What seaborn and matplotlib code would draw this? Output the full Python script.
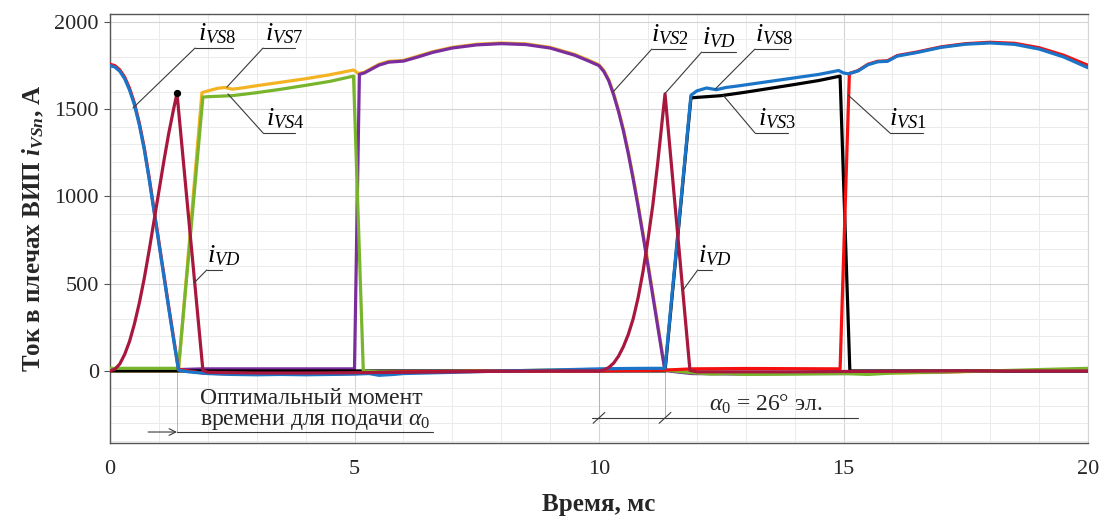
import matplotlib

matplotlib.use("Agg")
import matplotlib.pyplot as plt  # noqa: E402
import pandas as pd  # noqa: E402
import seaborn as sns  # noqa: E402
from matplotlib.ticker import MultipleLocator  # noqa: E402

# --- data (time in ms, current in A) ---
T_VS8 = [0, 0.1, 0.2, 0.3, 0.4, 0.5, 0.6, 0.7, 0.8, 0.9, 1.0, 1.1, 1.2, 1.3, 1.4, 1.6, 2.0, 2.5, 3.0,
         3.5, 4.0, 4.5, 5.0, 5.3, 5.5, 5.8, 6.0, 7.0, 8.0, 9.0, 10.0, 10.5, 11.0, 11.35, 11.88, 12.0,
         12.2, 12.4, 12.6, 12.8, 13.0, 13.5, 14.0, 14.5, 14.9, 15.0, 15.1, 15.3, 15.5, 15.7, 15.9, 16.1,
         16.5, 17.0, 17.5, 18.0, 18.5, 19.0, 19.5, 20.0]
I_VS8 = [1750, 1742, 1718, 1675, 1610, 1525, 1410, 1270, 1100, 915, 730, 545, 360, 180, 5, -5, -15,
         -20, -22, -20, -22, -20, -18, -15, -25, -20, -15, -8, 0, 5, 12, 14, 15, 15, 1580, 1605,
         1622, 1612, 1625, 1632, 1640, 1660, 1680, 1700, 1722, 1708, 1703, 1720, 1755, 1772, 1775, 1805,
         1825, 1855, 1873, 1880, 1872, 1845, 1800, 1738]

T_VS1 = [0, 0.1, 0.2, 0.3, 0.4, 0.5, 0.6, 0.7, 0.8, 0.9, 1.0, 1.1, 1.2, 1.3, 1.4, 1.6, 1.9, 2.5, 3.0,
         3.5, 4.0, 4.5, 5.0, 5.5, 6.0, 7.0, 8.0, 10.0, 11.0, 11.35, 11.9, 13.0, 14.0, 14.93, 15.12,
         15.3, 15.5, 15.7, 15.9, 16.1, 16.5, 17.0, 17.5, 18.0, 18.5, 19.0, 19.5, 20.0]
I_VS1 = [1758, 1750, 1726, 1684, 1620, 1535, 1420, 1280, 1110, 925, 740, 555, 370, 190, 10, 0, -12,
         -18, -20, -18, -20, -18, -15, -10, -5, -3, 0, 0, 3, 5, 12, 14, 13, 12, 1705,
         1722, 1758, 1775, 1778, 1808, 1828, 1858, 1876, 1884, 1878, 1853, 1810, 1752]

T_VS3 = [0, 11.35, 11.88, 12.0, 12.5, 13.0, 13.5, 14.0, 14.5, 14.93, 15.13, 20.0]
I_VS3 = [0, 0, 1565, 1568, 1578, 1598, 1620, 1642, 1665, 1690, 0, 0]

T_VD = [0, 0.1, 0.2, 0.3, 0.4, 0.5, 0.6, 0.7, 0.8, 0.9, 1.0, 1.1, 1.2, 1.3, 1.37, 1.9, 2.0, 3.0,
        4.0, 5.0, 6.0, 7.0, 8.0, 9.0, 10.0, 10.1, 10.2, 10.3, 10.4, 10.5, 10.6, 10.7, 10.8, 10.9,
        11.0, 11.1, 11.2, 11.35, 11.86, 12.0, 13.0, 14.0, 15.0, 16.0, 17.0, 20.0]
I_VD = [0, 10, 40, 95, 170, 270, 390, 530, 690, 860, 1030, 1200, 1360, 1500, 1592, 3, -8, -12,
        -12, -10, -8, -5, -2, 0, 0, 5, 20, 45, 85, 140, 210, 300, 420, 570,
        750, 950, 1190, 1588, 3, -5, -5, -5, -3, -2, 0, 0]

T_VS4 = [0, 1.4, 1.9, 2.0, 2.5, 3.0, 3.5, 4.0, 4.5, 4.98, 5.18, 5.5, 6.0, 7.0, 8.0, 9.0, 10.0, 11.0,
         11.35, 11.9, 12.3, 12.6, 13.0, 14.0, 15.0, 15.5, 16.0, 17.0, 18.0, 19.0, 20.0]
I_VS4 = [15, 15, 1570, 1572, 1578, 1595, 1615, 1637, 1660, 1690, 0, -5, -5, -3, 0, 5, 8, 10,
         5, -10, -18, -15, -20, -18, -15, -20, -12, -5, 0, 8, 15]

T_VS7 = [0, 1.4, 1.88, 2.0, 2.2, 2.35, 2.5, 2.7, 3.0, 3.5, 4.0, 4.5, 4.98, 5.08, 5.2, 5.5, 5.7, 6.0,
         6.3, 6.6, 7.0, 7.5, 8.0, 8.5, 9.0, 9.5, 9.8, 10.0, 10.1, 10.2, 10.3, 10.4, 10.5, 10.6, 10.7,
         10.8, 10.9, 11.0, 11.1, 11.2, 11.3, 11.35, 11.9, 13.0, 15.0, 16.0, 17.0, 18.0, 20.0]
I_VS7 = [0, 0, 1595, 1605, 1620, 1625, 1615, 1622, 1635, 1655, 1675, 1698, 1725, 1705, 1712, 1758, 1775,
         1780, 1805, 1830, 1855, 1873, 1880, 1875, 1855, 1815, 1780, 1755, 1722, 1670, 1590, 1495,
         1385, 1255, 1110, 955, 790, 620, 445, 270, 95, 5, -5, -10, -10, -12, -8, 0, 5]

T_VS2 = [0, 1.4, 1.9, 3.0, 4.0, 5.0, 5.1, 5.2, 5.5, 5.7, 6.0, 6.3, 6.6, 7.0, 7.5, 8.0, 8.5, 9.0, 9.5,
         9.8, 10.0, 10.1, 10.2, 10.3, 10.4, 10.5, 10.6, 10.7, 10.8, 10.9, 11.0, 11.1, 11.2, 11.3, 11.35,
         11.9, 13.0, 14.0, 15.0, 16.0, 17.0, 18.0, 20.0]
I_VS2 = [8, 8, 12, 12, 12, 12, 1700, 1708, 1753, 1770, 1776, 1800, 1826, 1851, 1869, 1876, 1871, 1851,
         1810, 1775, 1750, 1716, 1663, 1582, 1486, 1375, 1244, 1098, 942, 776, 606, 431, 256, 82, 2,
         -15, -18, -15, -15, -8, -5, 0, 0]

BLUE = "#1A75C9"
RED = "#F50F0F"
BLACK = "#000000"
CRIMSON = "#A8183E"
GREEN = "#78B52C"
ORANGE = "#F3B322"
PURPLE = "#7A2D9C"
INK = "#3A3A3A"

# draw order: bottom -> top
SERIES = [
    ("VS7", T_VS7, I_VS7, ORANGE),
    ("VS2", T_VS2, I_VS2, PURPLE),
    ("VS3", T_VS3, I_VS3, BLACK),
    ("VS4", T_VS4, I_VS4, GREEN),
    ("VS1", T_VS1, I_VS1, RED),
    ("VS8", T_VS8, I_VS8, BLUE),
    ("VD", T_VD, I_VD, CRIMSON),
]

# curve labels: text, text anchor, underline (x0, x1, y), point on curve
LABELS = [
    (r"$\mathit{i}_{\mathit{VS8}}$", (1.80, 1860), (1.74, 2.52, 1851), (0.47, 1507)),
    (r"$\mathit{i}_{\mathit{VS7}}$", (3.17, 1860), (3.13, 3.78, 1851), (2.39, 1627)),
    (r"$\mathit{i}_{\mathit{VS4}}$", (3.19, 1373), (3.13, 3.78, 1364), (2.41, 1588)),
    (r"$\mathit{i}_{\mathit{VD}}$", (1.98, 588), (1.98, 2.29, 579), (1.72, 505)),
    (r"$\mathit{i}_{\mathit{VS2}}$", (11.06, 1854), (11.08, 11.76, 1845), (10.29, 1600)),
    (r"$\mathit{i}_{\mathit{VD}}$", (12.10, 1837), (12.10, 12.80, 1828), (11.35, 1590)),
    (r"$\mathit{i}_{\mathit{VS8}}$", (13.18, 1854), (13.19, 13.87, 1845), (12.37, 1614)),
    (r"$\mathit{i}_{\mathit{VS3}}$", (13.26, 1373), (13.19, 13.87, 1364), (12.54, 1580)),
    (r"$\mathit{i}_{\mathit{VS1}}$", (15.93, 1373), (15.95, 16.63, 1364), (15.10, 1580)),
    (r"$\mathit{i}_{\mathit{VD}}$", (12.03, 588), (12.02, 12.31, 579), (11.72, 464)),
]

sns.set_theme(style="whitegrid")
plt.rcParams["font.family"] = ["Liberation Serif", "DejaVu Serif"]
plt.rcParams["mathtext.fontset"] = "custom"
plt.rcParams["mathtext.rm"] = "Liberation Serif"
plt.rcParams["mathtext.it"] = "Liberation Serif:italic"
plt.rcParams["mathtext.bf"] = "Liberation Serif:bold"
try:
    plt.rcParams["mathtext.bfit"] = "Liberation Serif:bold:italic"
    YSUB = r"$\mathbfit{i}_{\mathbfit{VSn}}$"
except KeyError:
    YSUB = r"$\mathit{i}_{\mathit{VSn}}$"

fig = plt.figure(figsize=(11.01, 5.19), dpi=100)
ax = fig.add_axes([110 / 1101, 1 - 443 / 519, (1088 - 110) / 1101, (443 - 14) / 519])

for name, t, i, c in SERIES:
    df = pd.DataFrame({"t": t, "i": i})
    sns.lineplot(data=df, x="t", y="i", color=c, lw=2.3, estimator=None, sort=False, ax=ax,
                 solid_joinstyle="round", zorder=3)

# black dot on the first diode-current peak
first = [k for k, t in enumerate(T_VD) if t < 5]
k = max(first, key=lambda j: I_VD[j])
ax.scatter([T_VD[k]], [I_VD[k]], s=18, color="black", zorder=5)

for text, (tx, ty), (u0, u1, uy), (px, py) in LABELS:
    ax.plot([u0, u1], [uy, uy], color=INK, lw=0.8, zorder=4)
    ax.plot([px, u0], [py, uy], color=INK, lw=0.8, zorder=4)
    ax.text(tx, ty, text, fontsize=19, ha="left", va="bottom", color="black", zorder=6)

# optimal moment annotation
ax.plot([1.37, 1.37], [0, -350], color="#b5b5b5", lw=0.7, zorder=1)
ax.annotate("", xy=(1.37, -350), xytext=(0.78, -350),
            arrowprops=dict(arrowstyle="->", color=INK, lw=0.8, shrinkA=0, shrinkB=0))
ax.plot([1.37, 6.6], [-350, -350], color=INK, lw=0.8)
ax.text(1.84, -100, "Оптимальный момент\nвремени для подачи " + r"$\mathit{\alpha}_{\mathit{0}}$",
        fontsize=17, ha="left", va="top", linespacing=1.0)

# alpha_0 span
for xv in (10.0, 11.35):
    ax.plot([xv, xv], [0, -269], color="#b5b5b5", lw=0.7, zorder=1)
    ax.plot([xv - 0.12, xv + 0.12], [-300, -238], color=INK, lw=0.8)
ax.plot([9.86, 15.3], [-269, -269], color=INK, lw=0.8)
ax.text(12.25, -258, r"$\mathit{\alpha}_{\mathit{0}}$" + " = 26° эл.", fontsize=17,
        ha="left", va="bottom")

ax.set_xlim(0, 20)
ax.set_ylim(-413, 2046)
ax.xaxis.set_major_locator(MultipleLocator(5))
ax.xaxis.set_minor_locator(MultipleLocator(1))
ax.yaxis.set_major_locator(MultipleLocator(500))
ax.yaxis.set_minor_locator(MultipleLocator(100))
ax.set_yticks([0, 500, 1000, 1500, 2000])
ax.grid(which="major", color="#d4d4d4", lw=0.8)
ax.grid(which="minor", color="#ebebeb", lw=0.7)
ax.set_axisbelow(True)
ax.set_facecolor("white")
ax.tick_params(axis="y", which="major", length=4, width=0.8, color="#555555", left=True,
               labelsize=16, pad=4)
ax.tick_params(axis="x", which="major", length=0, labelsize=16, pad=12)
ax.tick_params(which="minor", length=0)
for side in ("left", "bottom", "top"):
    ax.spines[side].set_color("#555555")
    ax.spines[side].set_linewidth(1.0)
ax.spines["right"].set_color("#d4d4d4")
ax.spines["right"].set_linewidth(0.8)

ax.set_xlabel("Время, мс", fontsize=18, fontweight="bold", labelpad=10)
ax.set_ylabel("Ток в плечах ВИП " + YSUB + ", А", fontsize=18, fontweight="bold", labelpad=6)

fig.savefig("out.png", dpi=100, facecolor="white")
